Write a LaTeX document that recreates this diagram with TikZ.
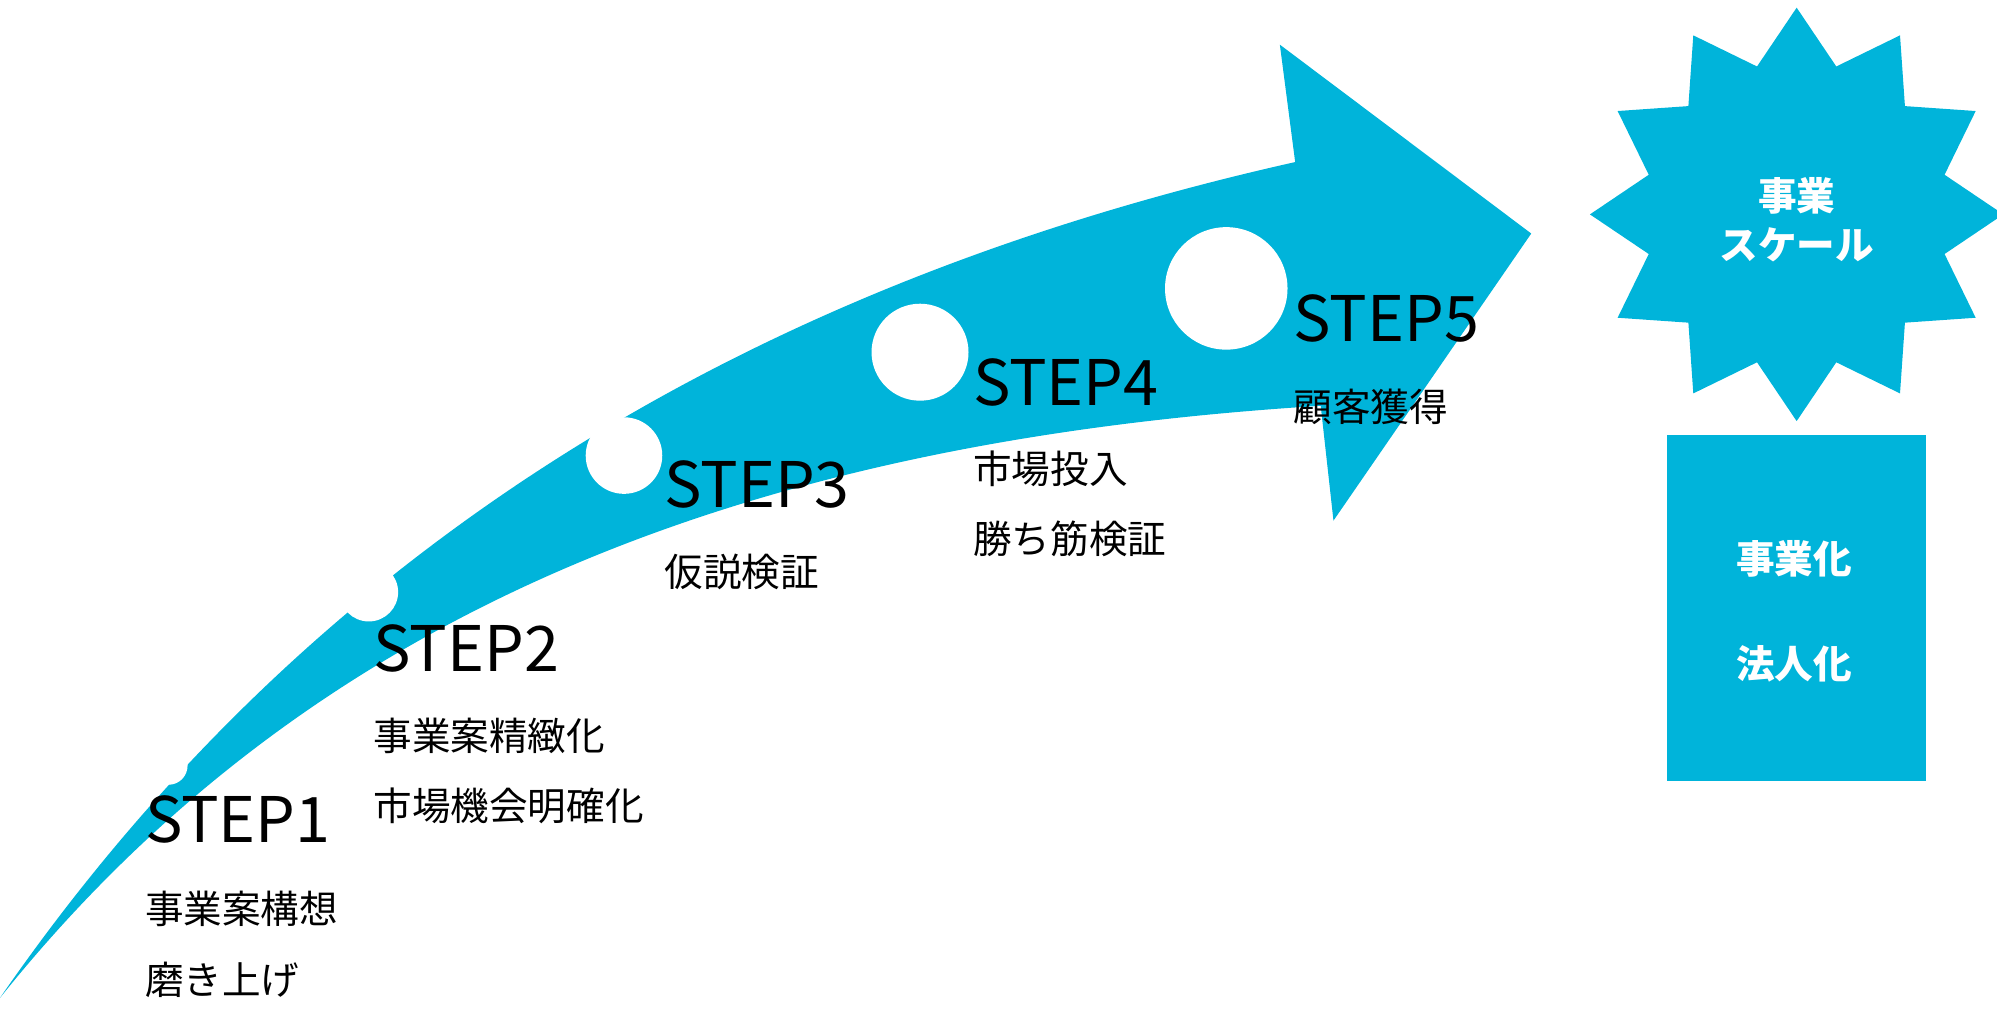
\documentclass[tikz,border=0pt]{standalone}
\usepackage{fontspec}
\setmainfont{Noto Sans CJK JP}
\definecolor{ac}{HTML}{00B4DA}
\begin{document}
\begin{tikzpicture}[x=0.01cm,y=-0.01cm,
 stp/.style={anchor=base west,font=\fontsize{14}{14}\selectfont,inner sep=0},
 jp/.style={anchor=base west,font=\fontsize{8.6}{8.6}\selectfont,inner sep=0},
 wt/.style={text=white,font=\fontsize{8.6}{11}\bfseries\selectfont,align=center}]
\useasboundingbox (0,0) rectangle (1565,811);
\fill[ac] (0,782) .. controls (250,420) and (600,220) .. (1015,127) -- (1003,35) -- (1200,183) -- (1045,408) -- (1035,318) .. controls (600,345) and (250,470) .. (0,782) -- cycle;
\foreach \n/\x/\y/\r in {c1/132/600/15,c2/289/464/23,c3/489/357/30,c4/721/276/38,c5/961/226/48}
  \fill[white] (\x,\y) circle (\r);
\node[stp] (s1) at (113,660) {STEP1};
\node[jp] (t1) at (113,724) {事業案構想};
\node[jp] (u1) at (113,779) {磨き上げ};
\node[stp] (s2) at (292,526) {STEP2};
\node[jp] (t2) at (292,588) {事業案精緻化};
\node[jp] (u2) at (292,643) {市場機会明確化};
\node[stp] (s3) at (520,398) {STEP3};
\node[jp] (t3) at (520,460) {仮説検証};
\node[stp] (s4) at (762,318) {STEP4};
\node[jp] (t4) at (762,379) {市場投入};
\node[jp] (u4) at (762,434) {勝ち筋検証};
\node[stp] (s5) at (1013,268) {STEP5};
\node[jp] (t5) at (1013,330) {顧客獲得};
\begin{scope}[shift={(1408,168)}]
\fill[ac] (90:162) \foreach \i in {0,...,11}{ -- ({105+30*\i}:120) -- ({120+30*\i}:162)} -- cycle;
\end{scope}
\node[wt] (star) at (1408,172) {事業\\スケール};
\fill[ac] (1306,341) rectangle (1509,612);
\node[wt] (b1) at (1406,438) {事業化};
\node[wt] (b2) at (1406,520) {法人化};
\end{tikzpicture}
\end{document}
